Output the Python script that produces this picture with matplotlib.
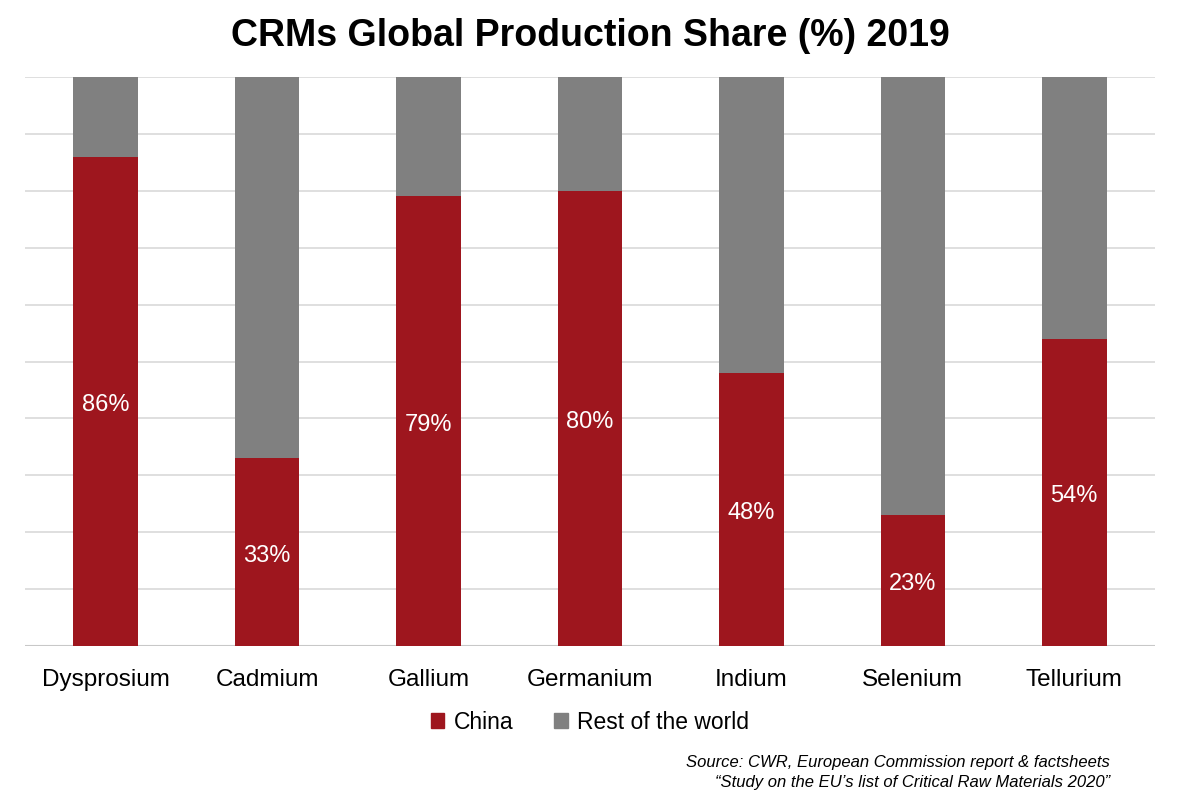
import matplotlib
matplotlib.use('Agg')
import matplotlib.pyplot as plt
from matplotlib.patches import Patch

plt.rcParams['font.family'] = ['Liberation Sans', 'DejaVu Sans']

# data
materials = ['Dysprosium', 'Cadmium', 'Gallium', 'Germanium', 'Indium', 'Selenium', 'Tellurium']
china = [86, 33, 79, 80, 48, 23, 54]
rest = [100 - v for v in china]

red = '#9E161E'
gray = '#808080'

fig = plt.figure(figsize=(11.8, 8.04), dpi=100)
ax = fig.add_axes([25 / 1180, 1 - 647 / 804, 1130 / 1180, 569 / 804])

x = range(len(materials))
ax.bar(x, china, width=0.4, color=red, zorder=3)
ax.bar(x, rest, bottom=china, width=0.4, color=gray, zorder=3)

# labels in the middle of the red bars
for i, v in enumerate(china):
    ax.text(i, v / 2, f'{v}%', ha='center', va='center_baseline', color='white', fontsize=17)

ax.set_xlim(-0.5, len(materials) - 0.5)
ax.set_ylim(0, 100)
ax.set_yticks(range(0, 101, 10))
ax.set_yticklabels([])
ax.tick_params(axis='y', length=0)
ax.tick_params(axis='x', length=0, pad=16, labelsize=17.5)
ax.set_xticks(list(x))
ax.set_xticklabels(materials)
ax.grid(axis='y', color='#d9d9d9', linewidth=1.2, zorder=0)
for s in ax.spines.values():
    s.set_visible(False)
ax.axhline(0, color='#c8c8c8', linewidth=1.5, zorder=2)

fig.text(0.5, 1 - 36 / 804, 'CRMs Global Production Share (%) 2019', ha='center', va='center',
         fontsize=27, fontweight='bold')

handles = [Patch(color=red, label='China'), Patch(color=gray, label='Rest of the world')]
fig.legend(handles=handles, loc='center', bbox_to_anchor=(590 / 1180, 1 - 723 / 804), ncol=2,
           frameon=False, fontsize=16.5, handlelength=0.6, handleheight=0.6, columnspacing=1.8,
           handletextpad=0.4)

fig.text(1110 / 1180, 1 - 763 / 804, 'Source: CWR, European Commission report & factsheets',
         ha='right', va='center', fontsize=12, style='italic')
fig.text(1110 / 1180, 1 - 783 / 804, '\u201cStudy on the EU\u2019s list of Critical Raw Materials 2020\u201d',
         ha='right', va='center', fontsize=12, style='italic')

fig.savefig('out.png', dpi=100)
